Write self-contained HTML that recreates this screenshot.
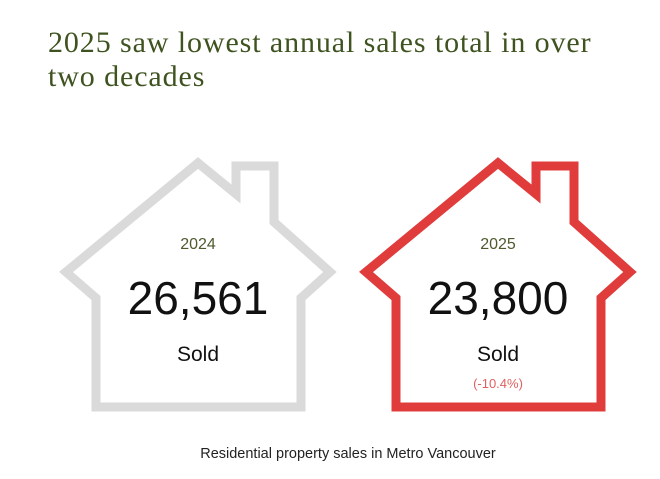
<!DOCTYPE html>
<html><head><style>
body{margin:0;background:#fff;width:660px;height:479px;overflow:hidden;position:relative;font-family:"Liberation Sans",sans-serif}
.t{position:absolute;left:48px;top:26px;font-family:"Liberation Serif",serif;font-size:30px;letter-spacing:0.9px;line-height:34px;color:#3f5320;width:620px}
svg{position:absolute;left:0;top:0}
</style></head><body>
<div class="t">2025 saw lowest annual sales total in over<br>two decades</div>
<svg width="660" height="479">
<defs><path id="h" d="M96,407 L96,298 L66,272 L198,163 L236,194 L236,166 L274,166 L274,222 L330,272 L301,298 L301,407 Z" fill="none" stroke-width="9" stroke-linejoin="miter"/></defs>
<use href="#h" stroke="#dadada"/>
<use href="#h" stroke="#e03c3c" transform="translate(300,0)"/>
<g font-family="Liberation Sans,sans-serif" text-anchor="middle">
<text x="198" y="249" font-size="16" fill="#4f5a2e">2024</text>
<text x="198" y="314" font-size="46" fill="#111">26,561</text>
<text x="198" y="361" font-size="21" fill="#111">Sold</text>
<text x="498" y="249" font-size="16" fill="#4f5a2e">2025</text>
<text x="498" y="314" font-size="46" fill="#111">23,800</text>
<text x="498" y="361" font-size="21" fill="#111">Sold</text>
<text x="498" y="388" font-size="13" fill="#e06060">(-10.4%)</text>
<text x="348" y="458" font-size="14.5" fill="#222">Residential property sales in Metro Vancouver</text>
</g>
</svg>
</body></html>
